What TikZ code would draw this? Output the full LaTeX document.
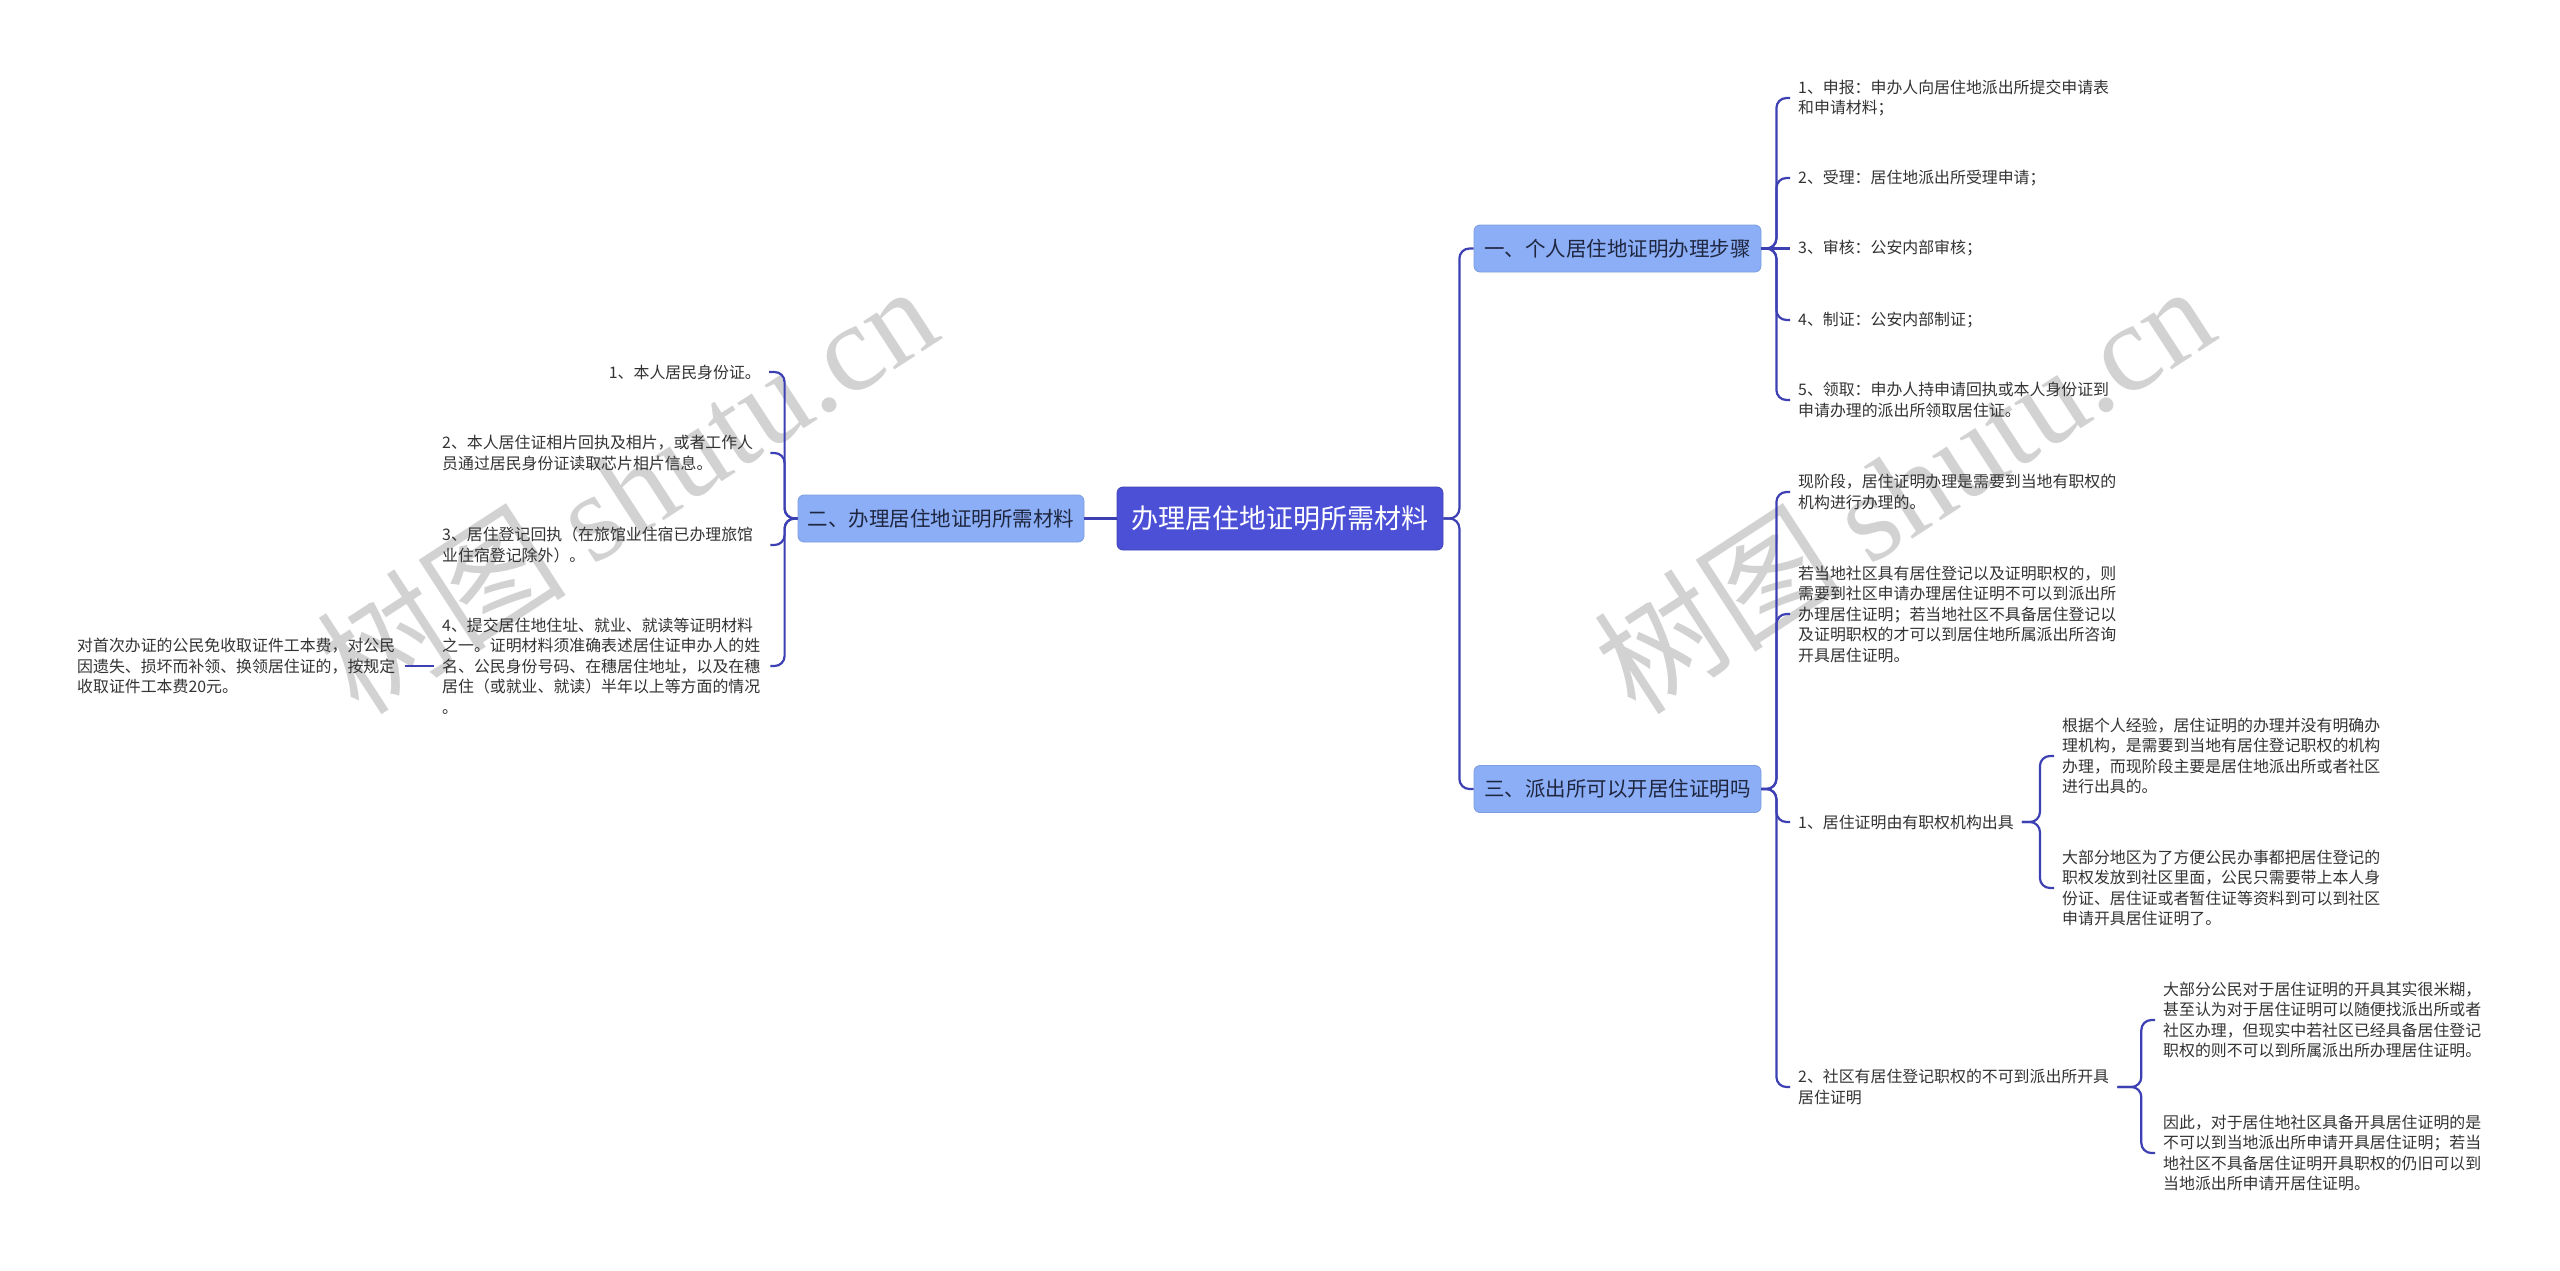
\documentclass[tikz,border=0pt]{standalone}
\usepackage{fontspec}
\setmainfont{Noto Sans CJK SC}
\newfontfamily\wmlatin{Liberation Serif}
\definecolor{linec}{HTML}{3D40B3}
\definecolor{rootc}{HTML}{4B50D6}
\definecolor{subc}{HTML}{8BAEF6}
\definecolor{subtext}{HTML}{1F2640}
\definecolor{leaftext}{HTML}{333333}
\definecolor{wmc}{HTML}{D2D2D2}
\begin{document}
\begin{tikzpicture}[x=1pt,y=-1pt,
 conn/.style={draw=linec, line width=2.2pt, rounded corners=10pt},
 rootbox/.style={rounded corners=6pt, fill=rootc, draw=rootc!85!black, line width=0.8pt, text=white,
   font=\fontsize{27}{32}\selectfont, minimum width=326pt, minimum height=63pt, inner sep=0pt},
 subbox/.style={rounded corners=6pt, fill=subc, draw=subc!90!black, line width=0.8pt, text=subtext,
   font=\fontsize{20.5}{24}\selectfont, minimum width=287pt, minimum height=47pt, inner sep=0pt},
 leaf/.style={align=left, text=leaftext, font=\fontsize{15.9}{20.5}\selectfont, inner xsep=8pt, inner ysep=2pt},
 wleaf/.style={leaf, text width=320pt},
 wm/.style={text=wmc, rotate=33, anchor=base west, inner sep=0pt, font=\fontsize{125}{125}\selectfont}
]
\fill[white] (0,0) rectangle (2560,1271);
\useasboundingbox (0,0) rectangle (2560,1271);

% watermarks
\node[wm] (wmA) at (359,718) {树图 {\wmlatin shutu.cn}};
\node[wm] (wmB) at (1636,718) {树图 {\wmlatin shutu.cn}};

% main nodes
\node[rootbox] (root) at (1280,518.5) {办理居住地证明所需材料};
\node[subbox, minimum width=286pt] (s2) at (941,518.5) {二、办理居住地证明所需材料};
\node[subbox] (s1) at (1617.5,248.5) {一、个人居住地证明办理步骤};
\node[subbox] (s3) at (1617.5,789) {三、派出所可以开居住证明吗};

% branch 1 leaves
\node[leaf, anchor=west] (a1) at (1790,98) {1、申报：申办人向居住地派出所提交申请表\\和申请材料；};
\node[leaf, anchor=west] (a2) at (1790,178) {2、受理：居住地派出所受理申请；};
\node[leaf, anchor=west] (a3) at (1790,248.5) {3、审核：公安内部审核；};
\node[leaf, anchor=west] (a4) at (1790,320) {4、制证：公安内部制证；};
\node[leaf, anchor=west] (a5) at (1790,400) {5、领取：申办人持申请回执或本人身份证到\\申请办理的派出所领取居住证。};

% branch 3
\node[leaf, anchor=west] (b1) at (1790,492) {现阶段，居住证明办理是需要到当地有职权的\\机构进行办理的。};
\node[leaf, anchor=west] (b2) at (1790,614) {若当地社区具有居住登记以及证明职权的，则\\需要到社区申请办理居住证明不可以到派出所\\办理居住证明；若当地社区不具备居住登记以\\及证明职权的才可以到居住地所属派出所咨询\\开具居住证明。};
\node[leaf, anchor=west] (b3) at (1790,822) {1、居住证明由有职权机构出具};
\node[leaf, anchor=west] (b4) at (1790,1087) {2、社区有居住登记职权的不可到派出所开具\\居住证明};

\node[leaf, anchor=west] (c1) at (2054,756) {根据个人经验，居住证明的办理并没有明确办\\理机构，是需要到当地有居住登记职权的机构\\办理，而现阶段主要是居住地派出所或者社区\\进行出具的。};
\node[leaf, anchor=west] (c2) at (2054,888) {大部分地区为了方便公民办事都把居住登记的\\职权发放到社区里面，公民只需要带上本人身\\份证、居住证或者暂住证等资料到可以到社区\\申请开具居住证明了。};

\node[leaf, anchor=west] (d1) at (2155,1020) {大部分公民对于居住证明的开具其实很米糊，\\甚至认为对于居住证明可以随便找派出所或者\\社区办理，但现实中若社区已经具备居住登记\\职权的则不可以到所属派出所办理居住证明。};
\node[leaf, anchor=west] (d2) at (2155,1153) {因此，对于居住地社区具备开具居住证明的是\\不可以到当地派出所申请开具居住证明；若当\\地社区不具备居住证明开具职权的仍旧可以到\\当地派出所申请开居住证明。};

% branch 2 (left)
\node[leaf, anchor=east] (e1) at (769,372) {1、本人居民身份证。};
\node[wleaf, anchor=west] (e2) at (434,453) {2、本人居住证相片回执及相片，或者工作人\\员通过居民身份证读取芯片相片信息。};
\node[wleaf, anchor=west] (e3) at (434,545) {3、居住登记回执（在旅馆业住宿已办理旅馆\\业住宿登记除外）。};
\node[wleaf, anchor=west] (e4) at (434,666) {4、提交居住地住址、就业、就读等证明材料\\之一。证明材料须准确表述居住证申办人的姓\\名、公民身份号码、在穗居住地址，以及在穗\\居住（或就业、就读）半年以上等方面的情况\\。};
\node[wleaf, anchor=west] (f1) at (69,666) {对首次办证的公民免收取证件工本费，对公民\\因遗失、损坏而补领、换领居住证的，按规定\\收取证件工本费20元。};

% connectors
\draw[conn] (root.west) -- (s2.east);
\draw[conn] (root.east) -- ++(16,0) |- (s1.west);
\draw[conn] (root.east) -- ++(16,0) |- (s3.west);

\foreach \n in {a1,a2,a4,a5} {\draw[conn] (s1.east) -- ++(15,0) |- (\n.west);}
\draw[conn] (s1.east) -- (a3.west);

\foreach \n in {b1,b2,b3,b4} {\draw[conn] (s3.east) -- ++(15,0) |- (\n.west);}

\foreach \n in {c1,c2} {\draw[conn] (b3.east) -- ++(18,0) |- (\n.west);}
\foreach \n in {d1,d2} {\draw[conn] (b4.east) -- ++(24,0) |- (\n.west);}

\draw[conn] (s2.west) -- ++(-13,0) |- (e1.east);
\foreach \n in {e2,e3,e4} {\draw[conn] (s2.west) -- ++(-13,0) |- (\n.east);}
\draw[conn] (e4.west) -- (f1.east);
\end{tikzpicture}
\end{document}
